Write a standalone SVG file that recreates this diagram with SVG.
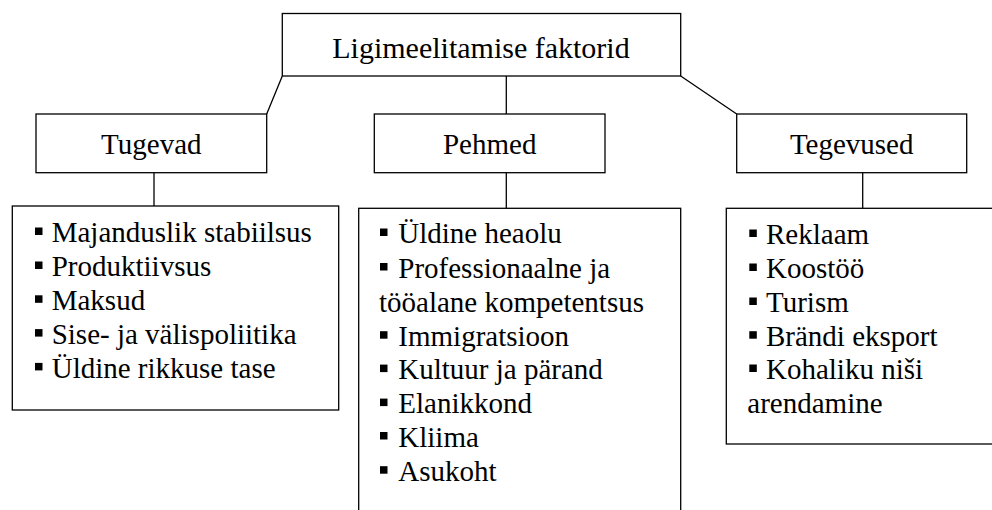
<svg xmlns="http://www.w3.org/2000/svg" xmlns:xlink="http://www.w3.org/1999/xlink" width="992" height="510" viewBox="0 0 992 510">
<style>
.box{fill:#fff;stroke:#000;stroke-width:1.3}
.ln{fill:none;stroke:#000;stroke-width:1.3}
.c{text-anchor:middle}
.b{fill:#000}
</style>
<defs>
<rect id="bul" width="7.5" height="7.5" class="b"/>
</defs>
<rect width="992" height="510" fill="#fff"/>
<g id="connectors">
<line class="ln" x1="282.3" y1="76" x2="266.7" y2="114"/>
<line class="ln" x1="506.3" y1="76" x2="506.3" y2="114"/>
<line class="ln" x1="680.7" y1="76" x2="736.7" y2="114"/>
<line class="ln" x1="154" y1="172.7" x2="154" y2="206"/>
<line class="ln" x1="506.3" y1="172.7" x2="506.3" y2="208.3"/>
<line class="ln" x1="862.7" y1="172.7" x2="862.7" y2="208.3"/>
</g>
<g font-family="'Liberation Serif', 'Times New Roman', serif" font-size="29" fill="#000">
<g id="root">
<rect class="box" x="282.3" y="13.5" width="398.4" height="62.5"/>
<text class="c" x="481" y="58" font-size="30">Ligimeelitamise faktorid</text>
</g>
<g id="tugevad">
<rect class="box" x="36" y="114" width="230.7" height="58.7"/>
<text class="c" x="151.3" y="154.3">Tugevad</text>
</g>
<g id="pehmed">
<rect class="box" x="374.3" y="114" width="230.7" height="58.7"/>
<text class="c" x="489.7" y="154.3">Pehmed</text>
</g>
<g id="tegevused">
<rect class="box" x="736.7" y="114" width="230" height="58.7"/>
<text class="c" x="851.7" y="154.3">Tegevused</text>
</g>
<g id="list-tugevad">
<rect class="box" x="12.3" y="206" width="326.4" height="204"/>
<use xlink:href="#bul" x="35" y="227.5"/><text x="51.7" y="242.3">Majanduslik stabiilsus</text>
<use xlink:href="#bul" x="35" y="261.5"/><text x="51.7" y="276.3">Produktiivsus</text>
<use xlink:href="#bul" x="35" y="295.3"/><text x="51.7" y="310.1">Maksud</text>
<use xlink:href="#bul" x="35" y="329.1"/><text x="51.7" y="343.9">Sise- ja välispoliitika</text>
<use xlink:href="#bul" x="35" y="362.9"/><text x="51.7" y="377.7">Üldine rikkuse tase</text>
</g>
<g id="list-pehmed">
<rect class="box" x="358.7" y="208.3" width="322" height="320"/>
<use xlink:href="#bul" x="380" y="228.5"/><text x="398.3" y="243.3">Üldine heaolu</text>
<use xlink:href="#bul" x="380" y="263"/><text x="398.3" y="277.8">Professionaalne ja</text>
<text x="379" y="311.8">tööalane kompetentsus</text>
<use xlink:href="#bul" x="380" y="331.2"/><text x="398.3" y="346">Immigratsioon</text>
<use xlink:href="#bul" x="380" y="364.6"/><text x="398.3" y="379.4">Kultuur ja pärand</text>
<use xlink:href="#bul" x="380" y="398.6"/><text x="398.3" y="413.4">Elanikkond</text>
<use xlink:href="#bul" x="380" y="432"/><text x="398.3" y="446.8">Kliima</text>
<use xlink:href="#bul" x="380" y="466.2"/><text x="398.3" y="481">Asukoht</text>
</g>
<g id="list-tegevused">
<rect class="box" x="726.3" y="208.3" width="280" height="235.7"/>
<use xlink:href="#bul" x="749.3" y="229.5"/><text x="766" y="244.3">Reklaam</text>
<use xlink:href="#bul" x="749.3" y="263.5"/><text x="766" y="278.3">Koostöö</text>
<use xlink:href="#bul" x="749.3" y="297.5"/><text x="766" y="312.3">Turism</text>
<use xlink:href="#bul" x="749.3" y="331.2"/><text x="766" y="346">Brändi eksport</text>
<use xlink:href="#bul" x="749.3" y="364.5"/><text x="766" y="379.3">Kohaliku niši</text>
<text x="747.3" y="412.7">arendamine</text>
</g>
</g>
</svg>
